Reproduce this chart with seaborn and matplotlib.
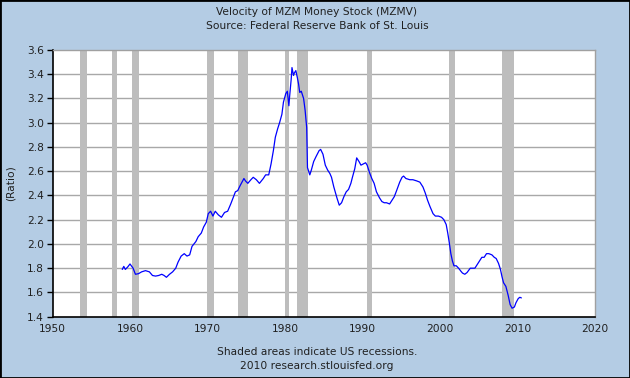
import matplotlib
matplotlib.use("Agg")
import matplotlib.pyplot as plt
import seaborn as sns
import pandas as pd
from matplotlib.patches import Rectangle

# ---- data ----
years = [1959.0, 1959.2, 1959.4, 1959.7, 1960.0, 1960.4, 1960.7, 1961.1, 1961.5, 1962.0,
         1962.5, 1962.9, 1963.3, 1963.7, 1964.1, 1964.4, 1964.7, 1965.1, 1965.5, 1965.9,
         1966.2, 1966.6, 1967.0, 1967.35, 1967.7, 1968.0, 1968.5, 1968.8, 1969.2, 1969.5,
         1969.85, 1970.1, 1970.4, 1970.7, 1971.0, 1971.4, 1971.8, 1972.2, 1972.6, 1973.0,
         1973.3, 1973.6, 1973.9, 1974.2, 1974.7, 1974.9, 1975.2, 1975.6, 1975.9, 1976.3,
         1976.7, 1977.2, 1977.5, 1977.9, 1978.2, 1978.5, 1978.75, 1979.05, 1979.3, 1979.6,
         1979.8, 1980.1, 1980.3, 1980.5, 1980.6, 1980.8, 1980.9, 1981.1, 1981.2, 1981.4,
         1981.6, 1981.75, 1981.9, 1982.1, 1982.4, 1982.6, 1982.8, 1982.9, 1983.2, 1983.4,
         1983.7, 1984.0, 1984.4, 1984.6, 1984.9, 1985.2, 1985.5, 1985.8, 1986.0, 1986.3,
         1986.7, 1987.0, 1987.3, 1987.6, 1987.9, 1988.2, 1988.5, 1988.7, 1989.0, 1989.25,
         1989.55, 1989.8, 1990.1, 1990.4, 1990.6, 1990.9, 1991.2, 1991.5, 1991.8, 1992.2,
         1992.5, 1992.8, 1993.1, 1993.5, 1993.8, 1994.1, 1994.4, 1994.8, 1995.1, 1995.3,
         1995.6, 1996.1, 1996.5, 1997.0, 1997.4, 1997.8, 1998.1, 1998.4, 1998.7, 1999.1,
         1999.4, 1999.8, 2000.2, 2000.5, 2000.8, 2001.0, 2001.2, 2001.4, 2001.6, 2001.8,
         2002.1, 2002.4, 2002.7, 2002.9, 2003.2, 2003.5, 2003.9, 2004.2, 2004.5, 2004.8,
         2005.1, 2005.4, 2005.7, 2006.0, 2006.3, 2006.7, 2007.0, 2007.25, 2007.55, 2007.8,
         2008.0, 2008.2, 2008.5, 2008.8, 2009.05, 2009.3, 2009.6, 2009.8, 2010.1, 2010.3,
         2010.5]
mzmv = [1.79, 1.815, 1.79, 1.81, 1.835, 1.80, 1.75, 1.755, 1.77, 1.78,
        1.77, 1.74, 1.735, 1.74, 1.75, 1.74, 1.725, 1.75, 1.77, 1.80,
        1.85, 1.90, 1.92, 1.90, 1.91, 1.98, 2.02, 2.06, 2.09, 2.14,
        2.18, 2.25, 2.27, 2.23, 2.27, 2.24, 2.22, 2.26, 2.27, 2.33,
        2.38, 2.43, 2.44, 2.48, 2.54, 2.52, 2.50, 2.53, 2.55, 2.53,
        2.50, 2.54, 2.57, 2.57, 2.66, 2.77, 2.88, 2.95, 3.00, 3.07,
        3.17, 3.24, 3.26, 3.14, 3.22, 3.36, 3.455, 3.39, 3.41, 3.43,
        3.37, 3.32, 3.25, 3.26, 3.20, 3.10, 2.96, 2.63, 2.57, 2.61,
        2.68, 2.72, 2.77, 2.78, 2.74, 2.65, 2.61, 2.58, 2.55, 2.47,
        2.38, 2.32, 2.34, 2.39, 2.43, 2.45, 2.50, 2.55, 2.62, 2.71,
        2.68, 2.65, 2.66, 2.67, 2.65, 2.59, 2.54, 2.50, 2.43, 2.38,
        2.35, 2.34, 2.34, 2.33, 2.36, 2.39, 2.44, 2.51, 2.55, 2.56,
        2.54, 2.53, 2.53, 2.52, 2.51, 2.47, 2.42, 2.36, 2.31, 2.25,
        2.23, 2.23, 2.22, 2.20, 2.16, 2.09, 2.01, 1.92, 1.86, 1.82,
        1.82, 1.80, 1.775, 1.76, 1.75, 1.765, 1.80, 1.80, 1.80, 1.83,
        1.86, 1.89, 1.89, 1.92, 1.92, 1.91, 1.89, 1.88, 1.84, 1.79,
        1.73, 1.68, 1.65, 1.575, 1.50, 1.47, 1.48, 1.515, 1.55, 1.56,
        1.555]

recession_start = [1953.55, 1957.65, 1960.3, 1969.95, 1973.9, 1980.05, 1981.55, 1990.6, 2001.2, 2007.95]
recession_end   = [1954.4, 1958.35, 1961.15, 1970.9, 1975.2, 1980.55, 1982.95, 1991.25, 2001.95, 2009.5]

x_ticks = [1950, 1960, 1970, 1980, 1990, 2000, 2010, 2020]
y_ticks = [1.4, 1.6, 1.8, 2.0, 2.2, 2.4, 2.6, 2.8, 3.0, 3.2, 3.4, 3.6]

title = "Velocity of MZM Money Stock (MZMV)"
subtitle = "Source: Federal Reserve Bank of St. Louis"
note1 = "Shaded areas indicate US recessions."
note2 = "2010 research.stlouisfed.org"
ylabel = "(Ratio)"

# ---- styling ----
BG = "#b4cce4"
sns.set_theme(style="white")
plt.rcParams["font.family"] = ["DejaVu Sans"]
FS = 7.7
plt.rcParams["font.size"] = FS
TXT = "#202020"

fig = plt.figure(figsize=(6.3, 3.78), dpi=100)
fig.patch.set_facecolor(BG)
ax = fig.add_axes([52.5 / 630, 1 - 316.7 / 378, (595 - 52.5) / 630, (316.7 - 50) / 378])
ax.set_facecolor("white")

# grid lines
for yv in y_ticks[1:-1]:
    ax.axhline(yv, color="#a8a8a8", lw=1.0, zorder=1)

# recessions
for s, e in zip(recession_start, recession_end):
    ax.axvspan(s, e, color="#bdbdbd", lw=0, zorder=2)

df = pd.DataFrame({"year": years, "MZMV": mzmv})
sns.lineplot(data=df, x="year", y="MZMV", ax=ax, color="#0000ff", lw=0.9, zorder=3)

ax.set_xlim(1950, 2020)
ax.set_ylim(1.4, 3.6)
ax.set_xticks(x_ticks)
ax.set_yticks(y_ticks)
ax.set_xticklabels([str(t) for t in x_ticks], fontsize=FS, color=TXT)
ax.set_yticklabels([f"{t:.1f}" for t in y_ticks], fontsize=FS, color=TXT)
ax.tick_params(axis="x", direction="in", length=4, width=1, color="black", pad=5)
ax.tick_params(axis="y", direction="out", length=4, width=1, color="black", pad=2, left=True)
ax.set_xlabel("")
ax.set_ylabel(ylabel, fontsize=FS, color=TXT, labelpad=8)

for side in ["left", "bottom"]:
    ax.spines[side].set_color("black")
    ax.spines[side].set_linewidth(1.2)
    ax.spines[side].set_visible(True)
for side in ["top", "right"]:
    ax.spines[side].set_color("#a0a0a0")
    ax.spines[side].set_linewidth(1.0)
    ax.spines[side].set_visible(True)

fig.text(0.503, 1 - 12 / 378, title, ha="center", va="center", fontsize=FS, color=TXT)
fig.text(0.503, 1 - 26 / 378, subtitle, ha="center", va="center", fontsize=FS, color=TXT)
fig.text(0.503, 1 - 352 / 378, note1, ha="center", va="center", fontsize=FS, color=TXT)
fig.text(0.503, 1 - 366 / 378, note2, ha="center", va="center", fontsize=FS, color=TXT)

fig.patches.append(Rectangle((0, 0), 1, 1, transform=fig.transFigure, fill=False,
                             edgecolor="black", lw=2.0, zorder=10))

fig.savefig("out.png", dpi=100, facecolor=BG)
